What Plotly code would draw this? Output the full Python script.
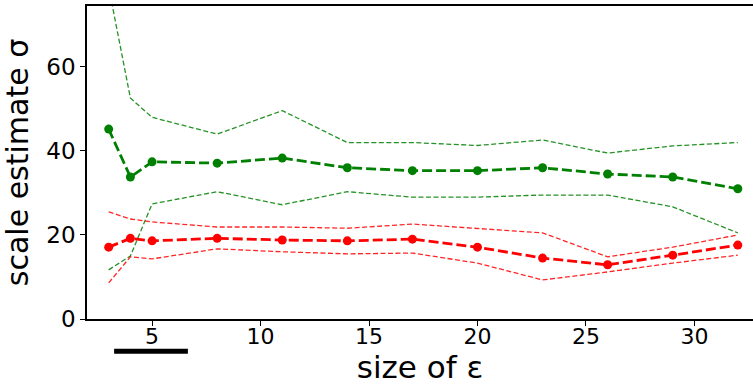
import plotly.graph_objects as go

x_vals = [3, 4, 5, 8, 11, 14, 17, 20, 23, 26, 29, 32]

green_mean = [45.2, 33.8, 37.4, 37.1, 38.3, 36.0, 35.3, 35.3, 36.0, 34.5, 33.8, 31.0]
green_upper = [79.0, 52.6, 48.0, 44.0, 49.6, 42.0, 42.0, 41.3, 42.6, 39.5, 41.2, 42.0]
green_lower = [11.7, 15.0, 27.4, 30.3, 27.2, 30.3, 29.0, 29.0, 29.5, 29.5, 26.7, 20.5]

red_mean = [17.1, 19.2, 18.6, 19.2, 18.8, 18.6, 19.0, 17.1, 14.5, 12.9, 15.2, 17.6]
red_upper = [25.5, 23.8, 23.1, 21.9, 21.9, 21.6, 22.6, 21.6, 20.5, 14.8, 17.1, 20.0]
red_lower = [8.6, 14.8, 14.3, 16.7, 16.0, 15.5, 15.7, 13.3, 9.3, 11.2, 13.3, 15.2]

x_ticks = [5, 10, 15, 20, 25, 30]
y_ticks = [0, 20, 40, 60]

GREEN = "#008000"
RED = "#ff0000"

fig = go.Figure()

def bound(y, color):
    fig.add_trace(go.Scatter(x=x_vals, y=y, mode="lines",
                             line=dict(color=color, width=1.3, dash="5px,2.5px"),
                             opacity=0.85, showlegend=False))

def mean(y, color):
    fig.add_trace(go.Scatter(x=x_vals, y=y, mode="lines+markers",
                             line=dict(color=color, width=2.8, dash="10px,4px"),
                             marker=dict(color=color, size=9),
                             showlegend=False))

bound(green_upper, GREEN)
bound(green_lower, GREEN)
mean(green_mean, GREEN)
bound(red_upper, RED)
bound(red_lower, RED)
mean(red_mean, RED)

fig.add_shape(type="line", xref="x", yref="paper", x0=3.25, x1=6.65, y0=-0.103, y1=-0.103,
              line=dict(color="black", width=5))

fig.update_layout(
    width=753, height=385,
    margin=dict(l=87, r=0, t=6, b=66),
    paper_bgcolor="white", plot_bgcolor="white",
    font=dict(family="DejaVu Sans", color="black"),
    xaxis=dict(range=[2.0, 32.7], tickvals=x_ticks, ticks="outside", ticklen=5,
               tickwidth=1.3, tickcolor="black", showline=True, linecolor="black",
               linewidth=1.5, mirror=True, showgrid=False, zeroline=False,
               tickfont=dict(size=22), ticklabelstandoff=-8,
               title=dict(text="size of ε", font=dict(size=31), standoff=10)),
    yaxis=dict(range=[0, 74.5], tickvals=y_ticks, ticks="outside", ticklen=5,
               tickwidth=1.3, tickcolor="black", showline=True, linecolor="black",
               linewidth=1.5, showgrid=False, zeroline=False,
               tickfont=dict(size=23),
               title=dict(text="scale estimate σ", font=dict(size=30), standoff=10)),
)

fig.write_html("out.html")
